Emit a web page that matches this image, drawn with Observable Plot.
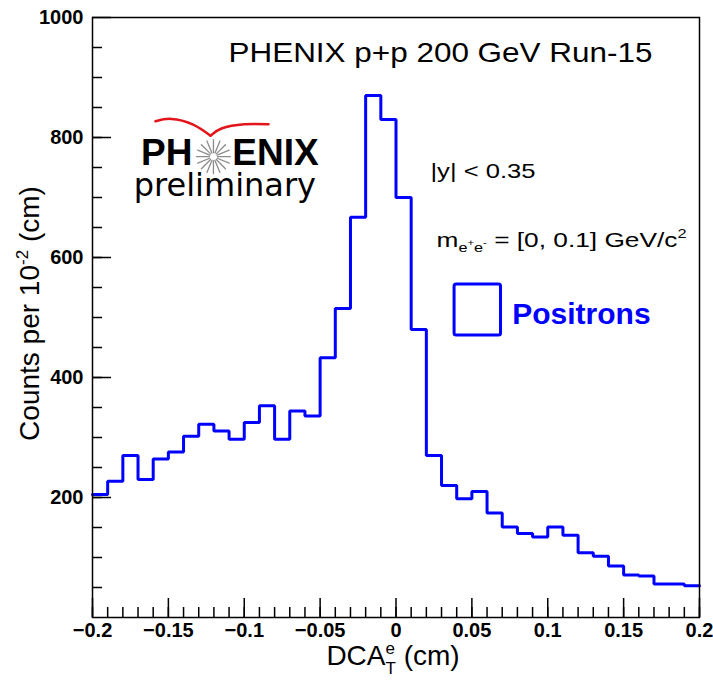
<!DOCTYPE html>
<html>
<head>
<meta charset="utf-8">
<script src="https://cdn.jsdelivr.net/npm/d3@7"></script>
<script src="https://cdn.jsdelivr.net/npm/@observablehq/plot@0.6"></script>
<style>
  html, body { margin: 0; padding: 0; background: #fff; }
</style>
</head>
<body>
<div id="chart"></div>
<script>
// Positron transverse DCA distribution, 0.01 cm bins from -0.2 to 0.2 cm
const binStart = -0.2;
const binWidth = 0.01;
const positronCounts = [
  205, 227, 270, 230, 264, 276, 302, 322, 311, 297,
  325, 353, 297, 344, 336, 433, 515, 667, 870, 830,
  700, 480, 270, 220, 198, 210, 174, 151, 140, 134,
  151, 137, 108, 102, 86, 71, 69, 56, 56, 53
];

// Axis ticks
const xTickValues = [-0.2, -0.15, -0.1, -0.05, 0, 0.05, 0.1, 0.15, 0.2];
const yTickValues = [200, 400, 600, 800, 1000];

// Texts
const titleText = "PHENIX p+p 200 GeV Run-15";
const rapidityText = "|y| < 0.35";
const massText = "me+e- = [0, 0.1] GeV/c2";
const legendText = "Positrons";
const xTitle = "DCAeT (cm)";
const yTitle = "Counts per 10-2 (cm)";
const logoLeft = "PH";
const logoRight = "ENIX";
const logoSub = "preliminary";

const blue = "#0000ff";

// Step outline: each bin's left edge at its count, closed at the last right edge
const nBins = positronCounts.length;
const binEdges = d3.range(nBins + 1).map(i => +(binStart + i * binWidth).toFixed(2));
const histPoints = positronCounts.map((c, i) => ({x: binEdges[i], y: c}));
histPoints.push({x: binEdges[nBins], y: positronCounts[nBins - 1]});

const xMinorTicks = binEdges;
const yMinorTicks = d3.range(50, 1000, 50);

const fmtX = d => d === 0 ? "0" : (d < 0 ? "\u2212" : "") + String(Math.abs(d));
const fmtY = d => String(d);

// Spokes of the logo's star
const spoke = {draw(context, l) { context.moveTo(0, -4); context.lineTo(0, -l); }};
const starAngles = d3.range(0, 360, 22.5);

const plot = Plot.plot({
  width: 713,
  height: 685,
  marginLeft: 92,
  marginRight: 14,
  marginTop: 17,
  marginBottom: 68,
  style: {fontFamily: "'Liberation Sans', Arial, Helvetica, sans-serif", background: "#fff", color: "#000"},
  x: {domain: [-0.2, 0.2]},
  y: {domain: [0, 1000]},
  marks: [
    // histogram outline
    Plot.line(histPoints, {x: "x", y: "y", curve: "step-after", stroke: blue, strokeWidth: 3, strokeLinejoin: "miter"}),

    // axes: labels outside, ticks pointing inward
    Plot.axisX(xTickValues, {tickSize: 0, tickPadding: 5, tickFormat: fmtX, fontSize: 20, fontWeight: "bold", label: null}),
    Plot.axisX(xTickValues, {tickSize: -19, fill: null, label: null, strokeWidth: 1.5}),
    Plot.axisX(xMinorTicks, {tickSize: -10, fill: null, label: null, strokeWidth: 1.5}),
    Plot.axisY(yTickValues, {tickSize: 0, tickPadding: 9, tickFormat: fmtY, fontSize: 20, fontWeight: "bold", label: null}),
    Plot.axisY(yTickValues, {tickSize: -19, fill: null, label: null, strokeWidth: 1.5}),
    Plot.axisY(yMinorTicks, {tickSize: -10, fill: null, label: null, strokeWidth: 1.5}),
    Plot.frame({stroke: "#000", strokeWidth: 1.5}),

    // axis titles
    Plot.text([xTitle], {text: d => d, frameAnchor: "bottom", dx: -3, dy: 47, fontSize: 28}),
    Plot.text([yTitle], {text: d => d, frameAnchor: "left", textAnchor: "middle", rotate: -90, dx: -62, dy: -4, fontSize: 28}),

    // header and selection texts
    Plot.text([titleText], {text: d => d, x: -0.1104, y: 940, textAnchor: "start", fontSize: 28}),
    Plot.text([rapidityText], {text: d => d, x: 0.0227, y: 744, textAnchor: "start", fontSize: 21}),
    Plot.text([massText], {text: d => d, x: 0.0267, y: 628, textAnchor: "start", fontSize: 21}),

    // legend
    Plot.rect([legendText], {x1: 0.0386, x2: 0.0692, y1: 470, y2: 555, fill: "none", stroke: blue, strokeWidth: 3, rx: 2}),
    Plot.text([legendText], {text: d => d, x: 0.0766, y: 505, textAnchor: "start", fontSize: 30, fontWeight: "bold", fill: blue}),

    // PHENIX preliminary logo
    Plot.line([{x: -0.1585, y: 827}, {x: -0.1480, y: 831}, {x: -0.1340, y: 822}, {x: -0.1222, y: 803}],
      {x: "x", y: "y", curve: "natural", stroke: "#e3151a", strokeWidth: 2.5}),
    Plot.line([{x: -0.1222, y: 803}, {x: -0.1150, y: 815}, {x: -0.1000, y: 822}, {x: -0.0840, y: 822}],
      {x: "x", y: "y", curve: "natural", stroke: "#e3151a", strokeWidth: 2.5}),
    Plot.vector(starAngles, {x: -0.1203, y: 768, rotate: d => d, length: 17, anchor: "start", shape: spoke, stroke: "#8c8c8c", strokeWidth: 1.3}),
    Plot.text([logoLeft], {text: d => d, x: -0.1341, y: 774, textAnchor: "end", fontSize: 37, fontWeight: "bold"}),
    Plot.text([logoRight], {text: d => d, x: -0.1079, y: 774, textAnchor: "start", fontSize: 37, fontWeight: "bold"}),
    Plot.text([logoSub], {text: d => d, x: -0.1728, y: 720, textAnchor: "start", fontSize: 32, fontFamily: "'DejaVu Sans', sans-serif"})
  ]
});

document.getElementById("chart").appendChild(plot);

// Sub- and superscripts in the axis titles and mass label
function richText(svg, plain, parts) {
  d3.select(svg).selectAll("text")
    .filter(function() { return this.textContent === plain; })
    .each(function() {
      const t = d3.select(this);
      t.text(null);
      for (const p of parts) {
        const s = t.append("tspan").text(p.text);
        if (p.size) s.attr("font-size", p.size);
        if (p.dx) s.attr("dx", p.dx);
        if (p.dy) s.attr("dy", p.dy);
      }
    });
}

// Widen a text run to a given length
function widen(svg, plain, length) {
  d3.select(svg).selectAll("text")
    .filter(function() { return this.textContent === plain; })
    .attr("textLength", length)
    .attr("lengthAdjust", "spacingAndGlyphs");
}

richText(plot, xTitle, [
  {text: "DCA"},
  {text: "e", size: 17, dy: -11},
  {text: "T", size: 17, dx: -9.5, dy: 20},
  {text: " (cm)", dy: -9}
]);
richText(plot, yTitle, [
  {text: "Counts per 10"},
  {text: "-2", size: 17, dy: -11},
  {text: " (cm)", dy: 11}
]);
richText(plot, massText, [
  {text: "m"},
  {text: "e", size: 13, dy: 5},
  {text: "+", size: 9, dy: -6},
  {text: "e", size: 13, dy: 6},
  {text: "-", size: 9, dy: -6},
  {text: " = [0, 0.1] GeV/c", dy: 1},
  {text: "2", size: 13, dy: -9}
]);

widen(plot, titleText, 424);
widen(plot, rapidityText, 105);
widen(plot, massText, 250);
</script>
</body>
</html>
